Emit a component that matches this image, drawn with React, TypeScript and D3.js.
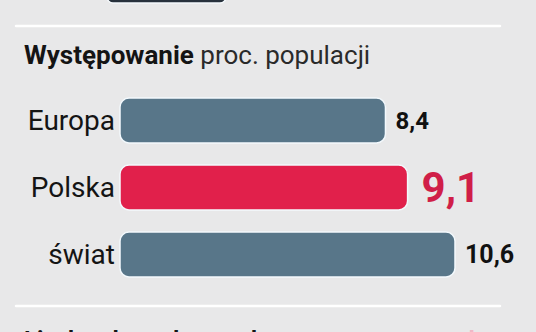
import React from "react";
import * as d3 from "d3";

const categories = ["Europa", "Polska", "świat"];
const values = [8.4, 9.1, 10.6];
const valueLabels = ["8,4", "9,1", "10,6"];
const highlight = [false, true, false];
const titleBold = "Występowanie";
const titleRegular = " proc. populacji";

const W = 536;
const H = 332;

export default function App() {
  const x = d3.scaleLinear().domain([0, 10.6]).range([120, 455]);
  const y = d3.scaleBand<string>().domain(categories).range([87, 288]).paddingInner(0.33).paddingOuter(0.165);
  const bh = y.bandwidth();
  const font = "Roboto, 'Noto Sans', sans-serif";
  return (
    <svg width={W} height={H} style={{ position: "fixed", left: 0, top: 0, display: "block" }} fontFamily={font}>
      <rect x={0} y={0} width={W} height={H} fill="#e8e8e9" />
      <rect x={107} y={-12} width={119} height={15} rx={6} fill="#27313c" stroke="#f4f8fb" strokeWidth={1.5} />
      <line x1={16} x2={500} y1={26} y2={26} stroke="#ffffff" strokeWidth={2.5} strokeLinecap="round" />
      <text x={24} y={64} fontSize={26} fill="#141414">
        <tspan fontWeight={700}>{titleBold}</tspan>
        <tspan fontWeight={400} fill="#2a2a2a">{titleRegular}</tspan>
      </text>
      {categories.map((c, i) => {
        const yy = y(c)!;
        const cy = yy + bh / 2;
        const xe = x(values[i]);
        const big = highlight[i];
        const vs = big ? 42 : i === 0 ? 24 : 25;
        return (
          <g key={c}>
            <rect x={x(0)} y={yy} width={xe - x(0)} height={bh} rx={9} fill={big ? "#e1204b" : "#587689"} stroke="#f3f9fd" strokeWidth={1.5} />
            <text x={115} y={cy + 0.355 * 28} fontSize={28} textAnchor="end" fill="#141414">{c}</text>
            <text x={xe + (big ? 14 : 10)} y={cy + 0.355 * vs} fontSize={vs} fontWeight={700} fill={big ? "#d01e48" : "#111"}>{valueLabels[i]}</text>
          </g>
        );
      })}
      <line x1={16} x2={500} y1={306} y2={306} stroke="#ffffff" strokeWidth={2.5} strokeLinecap="round" />
      <text x={24} y={348} fontSize={24} fontWeight={700} fill="#141414">Liczba chorych na cukrzycę</text>
      <text x={424} y={348} fontSize={24} fontWeight={700} fill="#f0b8c6">w mln</text>
    </svg>
  );
}
